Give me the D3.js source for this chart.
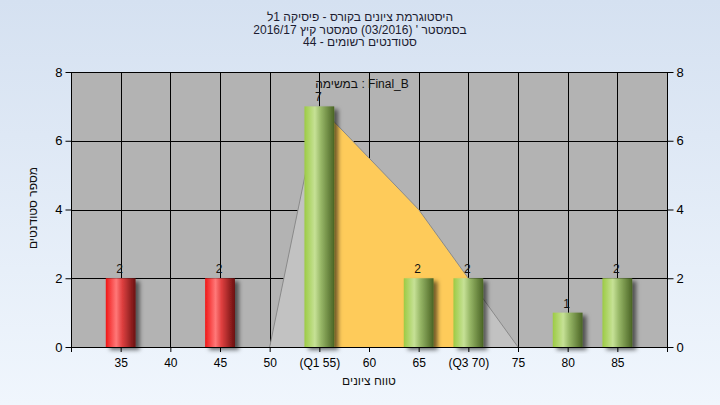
<!DOCTYPE html>
<html>
<head>
<meta charset="utf-8">
<script src="https://cdn.jsdelivr.net/npm/d3@7/dist/d3.min.js"></script>
<style>
  html, body { margin: 0; padding: 0; }
  body { width: 720px; height: 405px; overflow: hidden; }
  svg { display: block; }
  text { font-family: "Liberation Sans", "DejaVu Sans", sans-serif; }
</style>
</head>
<body>
<svg id="chart" width="720" height="405"></svg>
<script>
// ---------- data ----------
const titleLines = [
  "היסטוגרמת ציונים בקורס - פיסיקה 1ל",
  "בסמסטר ' (03/2016) סמסטר קיץ 2016/17",
  "סטודנטים רשומים - 44"
];
const taskLabel = "במשימה : Final_B";
const xAxisTitle = "טווח ציונים";
const yAxisTitle = "מספר סטודנטים";

const xTickValues = [35, 40, 45, 50, 55, 60, 65, 70, 75, 80, 85];
const xTickLabels = ["35", "40", "45", "50", "(Q1 55)", "60", "65", "(Q3 70)", "75", "80", "85"];
const yTickValues = [0, 2, 4, 6, 8];

const barScores = [35, 45, 55, 65, 70, 80, 85];
const barCounts = [2, 2, 7, 2, 2, 1, 2];
const passScore = 55;

const curveScores = [50, 55, 60, 65, 70, 75];
const curveCounts = [0, 7, 5.5, 4, 2, 0];
const q1 = 55, q3 = 70;

// ---------- layout ----------
const W = 720, H = 405;
const plot = { left: 71, right: 667, top: 72, bottom: 347 };
const svg = d3.select("#chart");
const defs = svg.append("defs");

// background gradient
const bg = defs.append("linearGradient").attr("id", "bg").attr("x1", 0).attr("y1", 0).attr("x2", 0).attr("y2", 1);
bg.append("stop").attr("offset", "0%").attr("stop-color", "#d5e1f1");
bg.append("stop").attr("offset", "100%").attr("stop-color", "#f0f6fd");
svg.append("rect").attr("width", W).attr("height", H).attr("fill", "url(#bg)");

// bar gradients
function barGrad(id, stops) {
  const g = defs.append("linearGradient").attr("id", id).attr("x1", 0).attr("y1", 0).attr("x2", 1).attr("y2", 0);
  stops.forEach(s => g.append("stop").attr("offset", s[0]).attr("stop-color", s[1]));
}
barGrad("gRed", [["0%", "#f01818"], ["35%", "#ff7878"], ["55%", "#e04040"], ["100%", "#6a1010"]]);
barGrad("gGreen", [["0%", "#9ccb44"], ["35%", "#c6e196"], ["55%", "#98b868"], ["100%", "#4a6424"]]);

const shadow = defs.append("filter").attr("id", "shadow").attr("x", "-20%").attr("y", "-20%").attr("width", "160%").attr("height", "140%");
shadow.append("feDropShadow").attr("dx", 4).attr("dy", 3).attr("stdDeviation", 2)
  .attr("flood-color", "#000").attr("flood-opacity", 0.55);

// scales
const x = d3.scaleLinear().domain([30, 90]).range([plot.left, plot.right]);
const y = d3.scaleLinear().domain([0, 8]).range([plot.bottom, plot.top]);

// plot background
svg.append("rect")
  .attr("x", plot.left).attr("y", plot.top)
  .attr("width", plot.right - plot.left).attr("height", plot.bottom - plot.top)
  .attr("fill", "#b3b3b3");

// gridlines
const grid = svg.append("g").attr("stroke", "#000").attr("stroke-width", 1).attr("shape-rendering", "crispEdges");
grid.selectAll("line.v").data(xTickValues).join("line")
  .attr("x1", d => Math.round(x(d)) + 0.5).attr("x2", d => Math.round(x(d)) + 0.5)
  .attr("y1", plot.top).attr("y2", plot.bottom);
grid.selectAll("line.h").data(yTickValues.filter(d => d > 0)).join("line")
  .attr("x1", plot.left).attr("x2", plot.right)
  .attr("y1", d => Math.round(y(d)) + 0.5).attr("y2", d => Math.round(y(d)) + 0.5);

// distribution areas
const curve = curveScores.map((s, i) => ({ s, v: curveCounts[i] }));
const area = d3.area().x(d => x(d.s)).y0(y(0)).y1(d => y(d.v));
svg.append("path").datum(curve).attr("d", area).attr("fill", "#c2c2c2");
svg.append("path").datum(curve.filter(d => d.s >= q1 && d.s <= q3)).attr("d", area).attr("fill", "#fecb5a");
svg.append("path").datum(curve)
  .attr("d", d3.line().x(d => x(d.s)).y(d => y(d.v)))
  .attr("fill", "none").attr("stroke", "#8a8a8a").attr("stroke-width", 1);

// axes
const xAxis = d3.axisBottom(x).tickValues(xTickValues).tickSize(5).tickPadding(6)
  .tickFormat((d, i) => xTickLabels[i]);
const gx = svg.append("g").attr("transform", `translate(0,${plot.bottom})`).call(xAxis);
gx.select(".domain").remove();
gx.append("line").attr("x1", plot.left).attr("x2", plot.right + 1).attr("y1", 0.5).attr("y2", 0.5).attr("stroke", "#000");
gx.selectAll(".tick line").attr("stroke", "#000");
gx.selectAll(".tick text").attr("fill", "#000").attr("font-size", 12).attr("font-family", "Liberation Sans, sans-serif");
[30, 90].forEach(v => {
  gx.append("line").attr("x1", x(v) + 0.5).attr("x2", x(v) + 0.5).attr("y1", 0).attr("y2", 5).attr("stroke", "#000");
});

const yl = d3.axisLeft(y).tickValues(yTickValues).tickSize(6).tickPadding(3);
const gyl = svg.append("g").attr("transform", `translate(${plot.left + 0.5},0)`).call(yl);
gyl.select(".domain").remove();
gyl.append("line").attr("x1", 0).attr("x2", 0).attr("y1", plot.top).attr("y2", plot.bottom + 5).attr("stroke", "#000");
gyl.selectAll(".tick text").attr("fill", "#000").attr("font-size", 13).attr("font-family", "Liberation Sans, sans-serif");

const yr = d3.axisRight(y).tickValues(yTickValues).tickSize(6).tickPadding(3);
const gyr = svg.append("g").attr("transform", `translate(${plot.right + 0.5},0)`).call(yr);
gyr.select(".domain").remove();
gyr.append("line").attr("x1", 0).attr("x2", 0).attr("y1", plot.top).attr("y2", plot.bottom + 5).attr("stroke", "#000");
gyr.selectAll(".tick text").attr("fill", "#000").attr("font-size", 13).attr("font-family", "Liberation Sans, sans-serif");

// bars
const barW = x(33) - x(30);
const bars = barScores.map((s, i) => ({ s, c: barCounts[i] }));
svg.append("g").selectAll("rect").data(bars).join("rect")
  .attr("x", d => x(d.s) - barW / 2)
  .attr("y", d => y(d.c))
  .attr("width", barW)
  .attr("height", d => y(0) - y(d.c))
  .attr("fill", d => d.s < passScore ? "url(#gRed)" : "url(#gGreen)")
  .attr("filter", "url(#shadow)");

// value labels
svg.append("g").selectAll("text").data(bars).join("text")
  .attr("x", d => x(d.s) - 1)
  .attr("y", d => y(d.c) - 5)
  .attr("text-anchor", "middle")
  .attr("font-size", 12)
  .attr("fill", "#111")
  .text(d => d.c);

// task label
svg.append("text").attr("x", 362).attr("y", 88).attr("text-anchor", "middle")
  .attr("font-size", 12).attr("fill", "#111").attr("direction", "ltr").text(taskLabel);

// titles
svg.append("g").selectAll("text").data(titleLines).join("text")
  .attr("x", 360).attr("y", (d, i) => 21 + i * 12.7)
  .attr("text-anchor", "middle").attr("direction", "rtl")
  .attr("font-size", 12).attr("fill", "#1c1c30")
  .text(d => d);

// axis titles
svg.append("text").attr("x", (plot.left + plot.right) / 2).attr("y", 385)
  .attr("text-anchor", "middle").attr("direction", "rtl")
  .attr("font-size", 12).attr("fill", "#111").text(xAxisTitle);
svg.append("text").attr("transform", "translate(37,208) rotate(-90)")
  .attr("text-anchor", "middle").attr("direction", "rtl")
  .attr("font-size", 12).attr("fill", "#111").text(yAxisTitle);
</script>
</body>
</html>
